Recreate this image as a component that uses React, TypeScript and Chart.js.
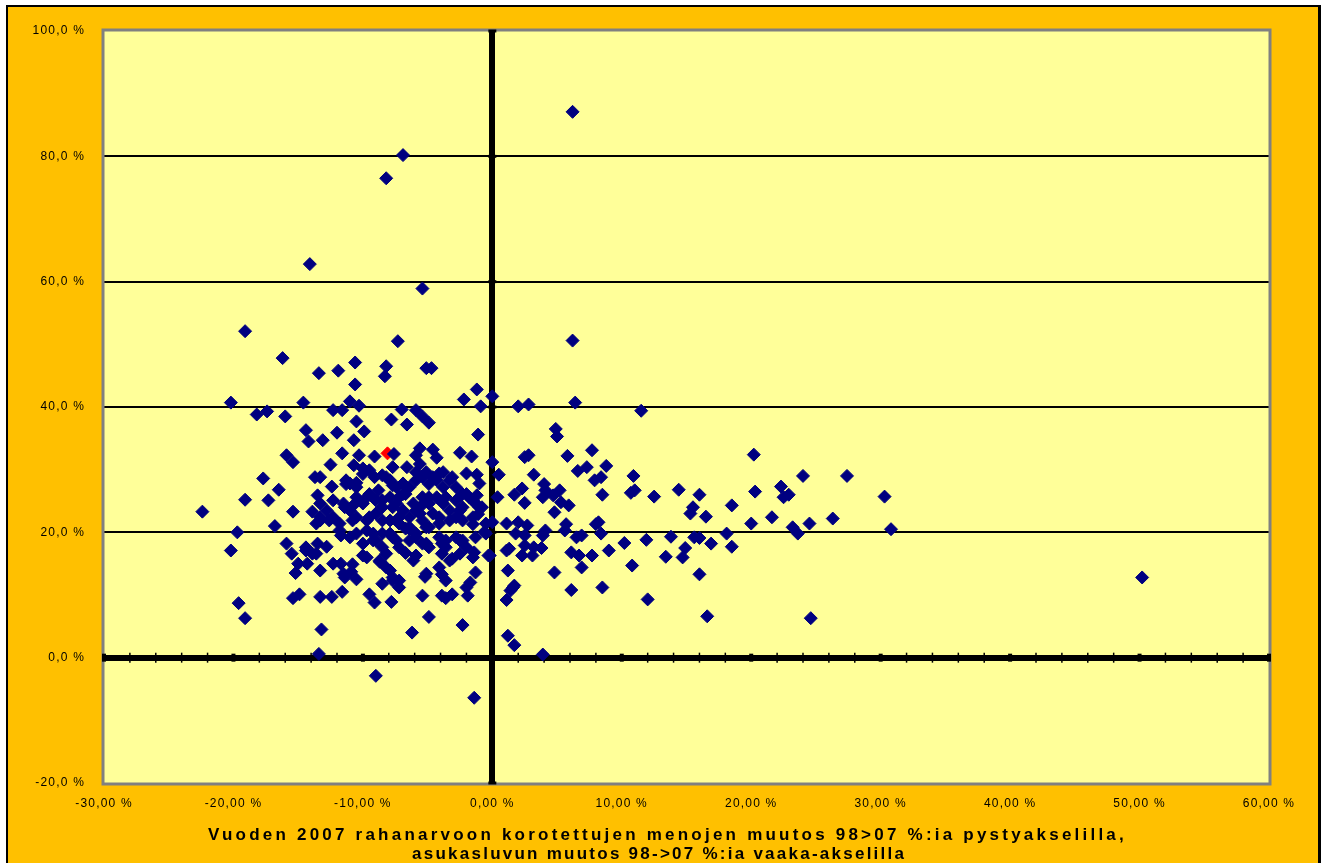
import React, { useEffect, useRef } from 'react';
import { Chart, registerables } from 'chart.js';

Chart.register(...registerables);

// x = asukasluvun muutos 98->07 (%), y = menojen muutos 98>07 (%)
const municipalityPoints: [number, number][] = [
  [6.2, 87.1], [-6.9, 80.2], [-8.2, 76.5], [-14.1, 62.8], [-5.4, 58.9], [-19.1, 52.1],
  [6.2, 50.6], [-7.3, 50.5], [-16.2, 47.8], [-10.6, 47.1], [-8.2, 46.5], [-5.1, 46.2],
  [-4.7, 46.2], [-13.4, 45.4], [-11.9, 45.8], [-8.3, 44.9], [-10.6, 43.6], [-1.2, 42.8],
  [-2.2, 41.2], [0.0, 41.7], [-20.2, 40.7], [-14.6, 40.7], [-11.0, 40.9], [-10.3, 40.2],
  [-18.2, 38.8], [-17.4, 39.3], [-16.0, 38.5], [-12.3, 39.5], [-11.6, 39.5], [-7.0, 39.6],
  [-7.8, 38.0], [-5.9, 39.5], [-5.4, 38.5], [-4.9, 37.5], [-6.6, 37.2], [-0.9, 40.1],
  [-10.5, 37.7], [-9.9, 36.1], [-14.4, 36.3], [-14.2, 34.5], [-13.1, 34.7], [-12.0, 35.9],
  [-10.7, 34.7], [-1.1, 35.6], [-11.6, 32.6], [-10.3, 32.3], [-7.6, 32.5], [-9.1, 32.1],
  [-5.6, 33.4], [-4.6, 33.2], [-4.3, 31.9], [-5.9, 32.3], [-2.5, 32.7], [-1.6, 32.1],
  [-15.9, 32.3], [-15.4, 31.2], [-12.5, 30.8], [-10.7, 30.7], [-10.0, 30.2], [0.0, 31.2],
  [-6.6, 30.4], [-5.9, 29.6], [-17.7, 28.6], [-13.7, 28.8], [-13.3, 28.8], [-12.4, 27.3],
  [-16.5, 26.8], [-19.1, 25.2], [-17.3, 25.1], [-22.4, 23.3], [-15.4, 23.3], [-13.9, 23.3],
  [-13.5, 25.9], [-11.0, 27.8], [-10.5, 27.2], [-8.2, 28.8], [-7.7, 27.5], [-6.9, 27.8],
  [-5.1, 29.6], [-4.1, 29.4], [-3.1, 28.8], [-2.0, 29.4], [-1.2, 29.2], [0.5, 29.2],
  [-1.0, 27.8], [-1.2, 25.9], [0.4, 25.6], [1.7, 26.0], [-0.8, 24.0], [0.0, 21.6],
  [1.1, 21.4], [2.0, 21.6],
  [-11.3, 27.7], [-10.5, 27.9], [-10.0, 29.3], [-9.5, 29.9], [-9.1, 28.8], [-8.5, 29.1],
  [-7.9, 28.3], [-7.4, 27.2], [-6.9, 26.1], [-6.4, 27.2], [-5.9, 28.3], [-5.4, 28.8],
  [-4.9, 27.7], [-4.3, 28.3], [-3.8, 27.2], [-3.3, 28.3], [-2.8, 27.2], [-2.3, 26.1],
  [-1.8, 25.6], [-5.4, 25.6], [-4.9, 24.6], [-4.3, 25.6], [-3.8, 24.6], [-3.3, 23.5],
  [-2.8, 22.4], [-2.3, 24.0], [-1.3, 24.6], [-1.1, 22.9], [-10.5, 25.6], [-10.0, 24.6],
  [-9.5, 26.1], [-9.0, 25.1], [-8.5, 24.0], [-7.9, 25.6], [-7.4, 24.6], [-6.9, 23.5],
  [-6.4, 22.4], [-5.9, 23.5], [-5.4, 21.9], [-4.9, 20.8], [-4.1, 22.4], [-11.0, 23.5],
  [-11.5, 24.6], [-11.8, 21.4], [-10.5, 22.4], [-9.5, 22.4], [-7.9, 21.9], [-7.2, 21.4],
  [-6.4, 20.5], [-13.3, 24.6], [-12.8, 23.5], [-13.3, 22.4], [-12.6, 21.9], [-13.6, 21.4],
  [-7.7, 30.4], [-5.6, 30.9], [-4.6, 28.8], [-3.8, 29.6], [-11.3, 28.3], [-12.3, 25.1],
  [-11.4, 24.0], [-10.6, 24.6], [-9.7, 25.6], [-8.8, 26.7], [-8.5, 25.1], [-7.7, 24.0],
  [-7.2, 25.6], [-6.7, 26.1], [-6.1, 24.6], [-5.6, 24.0], [-4.9, 25.6], [-3.6, 25.6],
  [-2.8, 25.1], [-2.0, 26.1], [-1.5, 25.1], [-1.0, 24.0], [-2.5, 23.5], [-4.6, 23.0],
  [-5.6, 23.0], [-7.2, 22.4], [-9.0, 23.0], [-13.3, 21.9], [-12.3, 22.4], [-10.8, 21.9],
  [-9.7, 21.9], [-8.5, 21.9], [-6.4, 20.8], [-5.1, 20.8], [-4.1, 21.4], [-3.3, 21.9],
  [-2.3, 21.9], [-1.5, 22.4], [-0.5, 21.4], [-11.8, 20.3], [-11.0, 19.2], [-9.7, 20.3],
  [-9.2, 18.7], [-8.5, 19.8], [-7.7, 19.2], [-7.2, 17.6], [-6.4, 18.7], [-5.9, 19.2],
  [-5.1, 18.2], [-4.1, 19.2], [-3.6, 17.6], [-2.5, 18.7], [-2.0, 17.6], [-1.3, 19.2],
  [-0.5, 19.8], [-0.2, 16.3], [-14.4, 17.6], [-13.9, 16.6], [-13.3, 13.9], [-12.3, 15.0],
  [-11.5, 13.4], [-9.7, 16.0], [-8.7, 15.5], [-8.2, 14.4], [-7.7, 12.8], [-6.1, 15.5],
  [-5.1, 13.4], [-4.1, 14.4], [-3.3, 15.5], [-2.5, 16.6], [-1.5, 16.0], [-3.6, 12.3],
  [-3.1, 10.1], [-7.2, 11.2], [-8.5, 11.8], [-9.5, 10.1],
  [-19.7, 20.0], [-16.8, 21.0], [-20.2, 17.1], [-19.6, 8.7], [-19.1, 6.3], [-15.9, 18.2],
  [-15.5, 16.6], [-15.0, 15.0], [-14.3, 15.0], [-15.2, 13.5], [-14.4, 17.1], [-13.5, 18.2],
  [-12.8, 17.7], [-13.6, 16.6], [-15.4, 9.5], [-14.9, 10.1], [-13.3, 9.7], [-12.4, 9.7],
  [-11.6, 10.5], [-13.2, 4.5], [-13.4, 0.6], [-11.7, 15.0], [-10.8, 14.9], [-11.4, 12.8],
  [-10.5, 12.5], [-10.9, 13.7], [-11.7, 19.5], [-10.5, 19.8], [-10.0, 18.2], [-9.2, 19.8],
  [-9.0, 18.7], [-8.5, 17.6], [-7.9, 19.8], [-8.2, 16.6], [-7.4, 18.7], [-6.7, 20.6],
  [-5.9, 19.8], [-5.4, 18.2], [-4.9, 17.6], [-10.0, 16.3], [-8.7, 15.3], [-7.9, 13.9],
  [-7.7, 12.3], [-7.2, 12.3], [-9.1, 8.8], [-7.8, 8.9], [-6.7, 16.7], [-5.9, 16.3],
  [-5.4, 9.9], [-3.9, 9.9], [-3.6, 9.5], [-5.2, 12.9], [-3.9, 13.3], [-3.9, 16.6],
  [-3.9, 18.2], [-3.1, 15.8], [-3.6, 18.7], [-4.9, 6.5], [-6.2, 4.0], [-2.3, 5.2],
  [-1.3, 13.6], [-1.7, 12.0], [-2.0, 11.2], [-1.9, 9.9], [-1.4, 16.8], [-1.5, 21.3],
  [-2.3, 18.7], [-2.8, 19.2], [-0.6, 20.1], [-0.3, 16.3], [1.1, 17.1], [1.2, 13.9],
  [1.7, 11.5], [1.4, 10.7], [1.1, 9.2], [1.2, 3.5], [1.7, 2.0], [-9.0, -2.9],
  [2.0, 40.1], [2.8, 40.4], [6.4, 40.7], [11.5, 39.4], [4.9, 36.5], [5.0, 35.3],
  [2.5, 32.0], [2.8, 32.3], [5.8, 32.2], [7.7, 33.1], [3.2, 29.2], [6.6, 29.8],
  [7.3, 30.4], [8.8, 30.6], [7.9, 28.3], [8.4, 28.8], [10.9, 29.0], [10.7, 26.3],
  [11.0, 26.7], [8.5, 26.0], [12.5, 25.7], [14.4, 26.8], [16.0, 26.0], [20.2, 32.4],
  [20.3, 26.5], [24.0, 29.0], [27.4, 29.0], [30.3, 25.7], [22.3, 27.3], [22.9, 26.0],
  [22.5, 25.6], [18.5, 24.3], [15.5, 24.0], [15.3, 23.0], [16.5, 22.5], [21.6, 22.4],
  [26.3, 22.2], [20.0, 21.4], [23.2, 20.8], [24.5, 21.4], [30.8, 20.5], [2.3, 27.0],
  [2.5, 24.7], [4.0, 27.7], [4.1, 26.7], [3.9, 25.6], [4.7, 25.9], [5.2, 26.7],
  [5.3, 24.8], [5.9, 24.3], [4.8, 23.2], [5.7, 21.3], [8.2, 21.6], [4.1, 20.3],
  [2.7, 21.1], [1.8, 19.8], [2.5, 19.5], [3.9, 19.5], [5.6, 20.3], [6.5, 19.2],
  [6.9, 19.5], [8.0, 21.3], [8.4, 19.8], [2.5, 17.9], [3.2, 17.6], [3.8, 17.5],
  [2.3, 16.3], [3.1, 16.3], [6.1, 16.8], [6.7, 16.3], [7.7, 16.3], [9.0, 17.1],
  [10.2, 18.3], [11.9, 18.8], [13.8, 19.3], [15.6, 19.2], [16.0, 19.1], [14.9, 17.5],
  [16.9, 18.2], [18.1, 19.8], [18.5, 17.7], [13.4, 16.1], [14.7, 16.0], [10.8, 14.7],
  [16.0, 13.3], [4.8, 13.6], [6.9, 14.4], [1.6, 11.2], [6.1, 10.8], [8.5, 11.2],
  [12.0, 9.3], [16.6, 6.6], [24.6, 6.3], [3.9, 0.5], [23.6, 19.8], [1.3, 17.4],
  [50.2, 12.8], [-1.4, -6.4],
];

// highlighted municipality (red marker)
const highlightPoints: [number, number][] = [[-8.1, 32.6]];

const xMin = -30;
const xMax = 60;
const xStep = 10;
const yMin = -20;
const yMax = 100;
const yStep = 20;

const axisTitleLines: string[] = [
  'Vuoden 2007 rahanarvoon korotettujen menojen muutos 98>07 %:ia pystyakselilla,',
  'asukasluvun muutos 98->07 %:ia vaaka-akselilla',
];

const FONT = 'Arial, "Liberation Sans", sans-serif';

const fmtY = (v: number) => v.toFixed(1).replace('.', ',') + ' %';
const fmtX = (v: number) => v.toFixed(2).replace('.', ',') + ' %';

const framePlugin = {
  id: 'excelFrame',
  beforeDraw(chart: any) {
    const { ctx, chartArea: a } = chart;
    ctx.save();
    ctx.fillStyle = '#ffffff';
    ctx.fillRect(0, 0, chart.width, chart.height);
    ctx.fillStyle = '#000000';
    ctx.fillRect(6, 5, 1315, chart.height);
    ctx.fillStyle = '#FFC000';
    ctx.fillRect(8, 7, 1310, chart.height);
    ctx.fillStyle = '#FFFF99';
    ctx.fillRect(a.left, a.top, a.right - a.left, a.bottom - a.top);
    ctx.restore();
    ctx.letterSpacing = '1.2px';
  },
  beforeDatasetsDraw(chart: any) {
    const { ctx, chartArea: a, scales } = chart;
    const xs = scales.x;
    const ys = scales.y;
    ctx.save();
    ctx.letterSpacing = '0px';
    ctx.strokeStyle = '#808080';
    ctx.lineWidth = 3;
    ctx.strokeRect(a.left - 1, a.top - 1, a.right - a.left + 2, a.bottom - a.top + 2);
    const y0 = ys.getPixelForValue(0);
    ctx.strokeStyle = '#000000';
    for (let v = xMin; v <= xMax; v += 2) {
      const px = xs.getPixelForValue(v);
      const major = v % 10 === 0;
      ctx.lineWidth = major ? 4 : 1.5;
      ctx.beginPath();
      ctx.moveTo(px, y0 - (major ? 4 : 5));
      ctx.lineTo(px, y0 + (major ? 4 : 5));
      ctx.stroke();
    }
    const x0 = xs.getPixelForValue(0);
    for (let v = yMin; v <= yMax; v += yStep) {
      const py = ys.getPixelForValue(v);
      ctx.lineWidth = 3;
      ctx.beginPath();
      ctx.moveTo(x0 - 4, py);
      ctx.lineTo(x0 + 4, py);
      ctx.stroke();
    }
    ctx.restore();
  },
  afterDraw(chart: any) {
    const { ctx } = chart;
    ctx.save();
    ctx.font = `bold 17px ${FONT}`;
    ctx.fillStyle = '#000000';
    ctx.textAlign = 'left';
    ctx.textBaseline = 'alphabetic';
    const placements = [
      { x: 208, y: 840, w: 919 },
      { x: 412, y: 859, w: 494 },
    ];
    axisTitleLines.forEach((line, i) => {
      const p = placements[i];
      ctx.letterSpacing = '0px';
      const w = ctx.measureText(line).width;
      const ls = Math.max(0, (p.w - w) / line.length);
      ctx.letterSpacing = `${ls.toFixed(2)}px`;
      ctx.fillText(line, p.x, p.y);
    });
    ctx.restore();
    ctx.letterSpacing = '0px';
  },
};

export default function App() {
  const canvasRef = useRef<HTMLCanvasElement | null>(null);

  useEffect(() => {
    document.body.style.margin = '0';
    const canvas = canvasRef.current;
    if (!canvas) return;
    const chart = new Chart(canvas, {
      type: 'scatter',
      data: {
        datasets: [
          {
            label: 'Kunnat',
            data: municipalityPoints.map(([x, y]) => ({ x, y })),
            pointStyle: 'rectRot',
            pointRadius: 6.5,
            pointHoverRadius: 6.5,
            backgroundColor: '#000080',
            borderColor: '#000080',
            borderWidth: 1,
          },
          {
            label: 'Valittu kunta',
            data: highlightPoints.map(([x, y]) => ({ x, y })),
            pointStyle: 'rectRot',
            pointRadius: 6.5,
            pointHoverRadius: 6.5,
            backgroundColor: '#FF0000',
            borderColor: '#FF0000',
            borderWidth: 1,
          },
        ],
      },
      options: {
        animation: false,
        responsive: false,
        devicePixelRatio: 1,
        layout: { padding: { left: 0, top: 31, right: 57, bottom: 0 } },
        plugins: {
          legend: { display: false },
          tooltip: { enabled: false },
          title: { display: false },
        },
        scales: {
          x: {
            type: 'linear',
            min: xMin,
            max: xMax,
            border: { display: false },
            grid: {
              drawTicks: false,
              color: (c: any) => (c.tick && c.tick.value === 0 ? '#000000' : 'rgba(0,0,0,0)'),
              lineWidth: (c: any) => (c.tick && c.tick.value === 0 ? 6 : 1),
            },
            ticks: {
              stepSize: xStep,
              autoSkip: false,
              maxRotation: 0,
              padding: 13,
              color: '#000000',
              font: { family: FONT, size: 12 },
              callback: (v: any) => fmtX(Number(v)),
            },
            afterFit: (s: any) => {
              s.height = 80;
            },
          },
          y: {
            type: 'linear',
            min: yMin,
            max: yMax,
            border: { display: false },
            grid: {
              drawTicks: false,
              color: (c: any) => {
                const v = c.tick ? c.tick.value : NaN;
                return v === yMin || v === yMax ? 'rgba(0,0,0,0)' : '#000000';
              },
              lineWidth: (c: any) => (c.tick && c.tick.value === 0 ? 6 : 2),
            },
            ticks: {
              stepSize: yStep,
              padding: 19,
              color: '#000000',
              font: { family: FONT, size: 12 },
              callback: (v: any) => fmtY(Number(v)),
            },
            afterFit: (s: any) => {
              s.width = 104;
            },
          },
        },
      },
      plugins: [framePlugin],
    });
    return () => chart.destroy();
  }, []);

  return (
    <div style={{ position: 'relative', width: 1326, height: 863, overflow: 'hidden', background: '#fff' }}>
      <canvas ref={canvasRef} width={1326} height={863} style={{ display: 'block' }} />
    </div>
  );
}
